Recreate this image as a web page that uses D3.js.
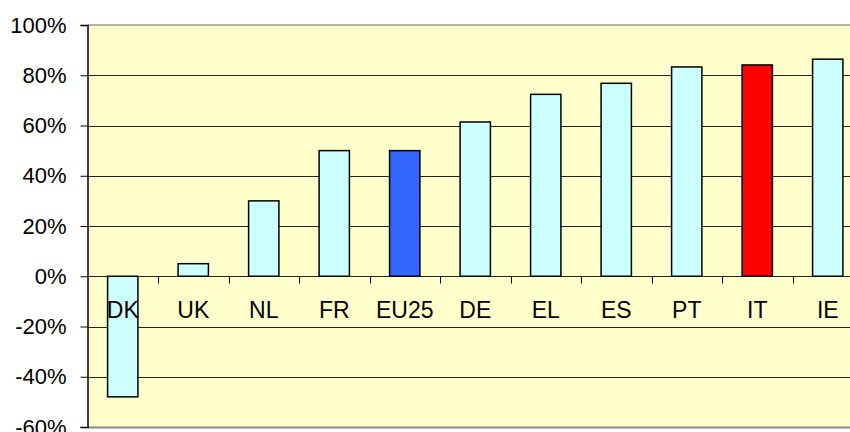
<!DOCTYPE html>
<html>
<head>
<meta charset="utf-8">
<script src="https://cdn.jsdelivr.net/npm/d3@7"></script>
<style>
  body { margin: 0; background: #fff; }
  svg { display: block; font-family: "Liberation Sans", Arial, sans-serif; }
</style>
</head>
<body>
<svg id="chart" width="850" height="432"></svg>
<script>
// data
var countries = ["DK", "UK", "NL", "FR", "EU25", "DE", "EL", "ES", "PT", "IT", "IE"];
var shares = [-48, 5, 30, 50, 50, 61.4, 72.4, 76.8, 83.3, 84.1, 86.4];
var highlight = {"EU25": "#3366FF", "IT": "#FF0000"};
var yTicks = [-60, -40, -20, 0, 20, 40, 60, 80, 100];

var plotLeft = 87.5, plotRight = 863, plotTop = 25, plotBottom = 427;

var svg = d3.select("#chart");

var x = d3.scaleBand()
    .domain(countries)
    .range([plotLeft, plotRight])
    .paddingInner(0.57)
    .paddingOuter(0.285);

var y = d3.scaleLinear()
    .domain([-60, 100])
    .range([plotBottom, plotTop]);

var step = x.step();
var left0 = plotLeft; // first band boundary

// plot background
svg.append("rect")
    .attr("x", plotLeft)
    .attr("y", plotTop)
    .attr("width", plotRight - plotLeft)
    .attr("height", plotBottom - plotTop)
    .attr("fill", "#FFFFCC");

// grid lines
svg.selectAll("line.grid")
    .data(yTicks.filter(function(d){ return d > -60 && d < 100; }))
    .enter().append("line")
    .attr("class", "grid")
    .attr("x1", plotLeft).attr("x2", plotRight)
    .attr("y1", function(d){ return Math.round(y(d)) + 0.5; })
    .attr("y2", function(d){ return Math.round(y(d)) + 0.5; })
    .attr("stroke", "#222")
    .attr("stroke-width", 1);

// top and bottom frame (grey)
svg.append("line")
    .attr("x1", plotLeft).attr("x2", plotRight)
    .attr("y1", plotTop).attr("y2", plotTop)
    .attr("stroke", "#999").attr("stroke-width", 1.5);
svg.append("line")
    .attr("x1", plotLeft).attr("x2", plotRight)
    .attr("y1", plotBottom + 0.5).attr("y2", plotBottom + 0.5)
    .attr("stroke", "#888").attr("stroke-width", 2);

// bars
svg.selectAll("rect.bar")
    .data(countries)
    .enter().append("rect")
    .attr("class", "bar")
    .attr("x", function(d){ return x(d); })
    .attr("width", x.bandwidth())
    .attr("y", function(d, i){ return y(Math.max(0, shares[i])); })
    .attr("height", function(d, i){ return Math.abs(y(shares[i]) - y(0)); })
    .attr("fill", function(d){ return highlight[d] || "#CCFFFF"; })
    .attr("stroke", "#000")
    .attr("stroke-width", 1.5);

// category tick marks on the zero line
var y0 = Math.round(y(0)) + 0.5;
svg.selectAll("line.ctick")
    .data(d3.range(1, countries.length + 1))
    .enter().append("line")
    .attr("class", "ctick")
    .attr("x1", function(i){ return Math.round(left0 + i * step) + 0.5; })
    .attr("x2", function(i){ return Math.round(left0 + i * step) + 0.5; })
    .attr("y1", y0).attr("y2", y0 + 7)
    .attr("stroke", "#000");

// y axis
var yAxis = d3.axisLeft(y)
    .tickValues(yTicks)
    .tickSize(7)
    .tickPadding(14)
    .tickFormat(function(d){ return d + "%"; });

var gy = svg.append("g")
    .attr("transform", "translate(" + plotLeft + ",0)")
    .call(yAxis);
gy.select(".domain").attr("stroke", "#000").attr("stroke-width", 1.5);
gy.selectAll(".tick line").attr("stroke", "#000");
gy.selectAll(".tick text")
    .attr("font-size", 22)
    .attr("font-family", "'Liberation Sans', Arial, sans-serif")
    .attr("fill", "#000");

// category labels
svg.selectAll("text.cat")
    .data(countries)
    .enter().append("text")
    .attr("class", "cat")
    .attr("x", function(d){ return x(d) + x.bandwidth() / 2; })
    .attr("y", 317.5)
    .attr("text-anchor", "middle")
    .attr("font-size", 23)
    .attr("fill", "#000")
    .text(function(d){ return d; });
</script>
</body>
</html>
